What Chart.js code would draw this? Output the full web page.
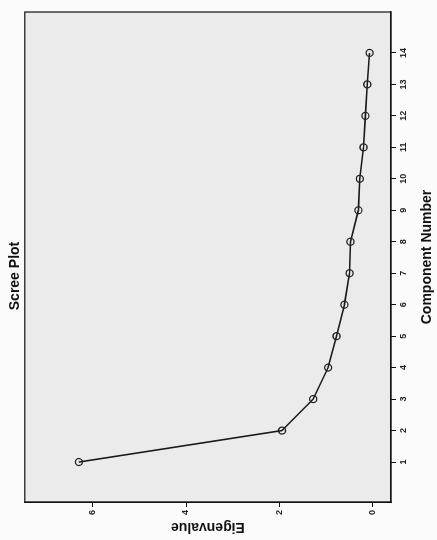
<!DOCTYPE html>
<html>
<head>
<meta charset="utf-8">
<script src="https://cdn.jsdelivr.net/npm/chart.js@4/dist/chart.umd.min.js"></script>
<style>
  html, body { margin: 0; padding: 0; background: #fbfbfb; overflow: hidden; }
  #giro {
    position: absolute; left: 0; top: 0;
    width: 540px; height: 437px;
    transform-origin: 0 0;
    transform: translateY(540px) rotate(-90deg);
  }
</style>
</head>
<body>
<div id="giro"><canvas id="grafico" width="540" height="437"></canvas></div>
<script>
const componentes = [1, 2, 3, 4, 5, 6, 7, 8, 9, 10, 11, 12, 13, 14];
const autovalores = [6.30, 1.94, 1.27, 0.95, 0.77, 0.60, 0.49, 0.47, 0.30, 0.27, 0.19, 0.15, 0.11, 0.06];
const ticksComponente = [1, 2, 3, 4, 5, 6, 7, 8, 9, 10, 11, 12, 13, 14];
const ticksAutovalor = [0, 2, 4, 6];

const fuente = "'Liberation Sans', Arial, sans-serif";

// fondo gris y marco negro del area de trazado
const marcoPlot = {
    id: 'marcoPlot',
    beforeDraw(chart) {
        const { ctx, chartArea: a } = chart;
        ctx.save();
        ctx.fillStyle = '#ebebeb';
        ctx.fillRect(a.left, a.top, a.right - a.left, a.bottom - a.top);
        ctx.restore();
    },
    afterDraw(chart) {
        const { ctx, chartArea: a } = chart;
        ctx.save();
        ctx.strokeStyle = '#111';
        ctx.lineWidth = 1.2;
        ctx.strokeRect(a.left, a.top, a.right - a.left, a.bottom - a.top);
        ctx.restore();
    }
};

const grafico = document.getElementById('grafico').getContext('2d');

window.graficaScree = new Chart(grafico, {
    type: 'line',
    data: {
        datasets: [{
            label: 'Eigenvalue',
            data: componentes.map((c, i) => ({ x: c, y: autovalores[i] })),
            borderColor: '#1a1a1a',
            borderWidth: 1.6,
            pointRadius: 3.5,
            pointBorderWidth: 1.3,
            pointBorderColor: '#222',
            pointBackgroundColor: 'rgba(0,0,0,0)',
            tension: 0
        }]
    },
    options: {
        responsive: false,
        animation: false,
        devicePixelRatio: 1,
        layout: { padding: { left: 0, right: 12, top: 0, bottom: 0 } },
        plugins: {
            legend: { display: false },
            tooltip: { enabled: false },
            title: {
                display: true,
                text: 'Scree Plot',
                color: '#111',
                font: { family: fuente, size: 14, weight: 'bold' },
                padding: { top: 7, bottom: 1 }
            }
        },
        scales: {
            x: {
                type: 'linear',
                position: 'bottom',
                min: -0.27,
                max: 15.3,
                afterBuildTicks: scale => { scale.ticks = ticksComponente.map(v => ({ value: v })); },
                afterFit: scale => { scale.height = 46; },
                ticks: {
                    autoSkip: false, maxRotation: 0, minRotation: 0,
                    color: '#222', padding: 2,
                    font: { family: fuente, size: 9, weight: 'bold' }
                },
                grid: { drawOnChartArea: false, drawTicks: true, tickLength: 5, color: '#111' },
                border: { display: true, color: '#111', width: 1.2 },
                title: {
                    display: true,
                    text: 'Component Number',
                    color: '#111',
                    font: { family: fuente, size: 14, weight: 'bold' },
                    padding: { top: 2, bottom: 1 }
                }
            },
            y: {
                type: 'linear',
                min: -0.4,
                max: 7.46,
                afterBuildTicks: scale => { scale.ticks = ticksAutovalor.map(v => ({ value: v })); },
                afterFit: scale => { scale.width = 38; },
                ticks: {
                    color: '#222', padding: 3,
                    font: { family: fuente, size: 9, weight: 'bold' }
                },
                grid: { drawOnChartArea: false, drawTicks: true, tickLength: 5, color: '#111' },
                border: { display: true, color: '#111', width: 1.2 },
                title: {
                    display: true,
                    text: 'Eigenvalue',
                    color: '#111',
                    font: { family: fuente, size: 14, weight: 'bold' },
                    padding: { top: 5, bottom: 0 }
                }
            }
        }
    },
    plugins: [marcoPlot]
});
</script>
</body>
</html>
